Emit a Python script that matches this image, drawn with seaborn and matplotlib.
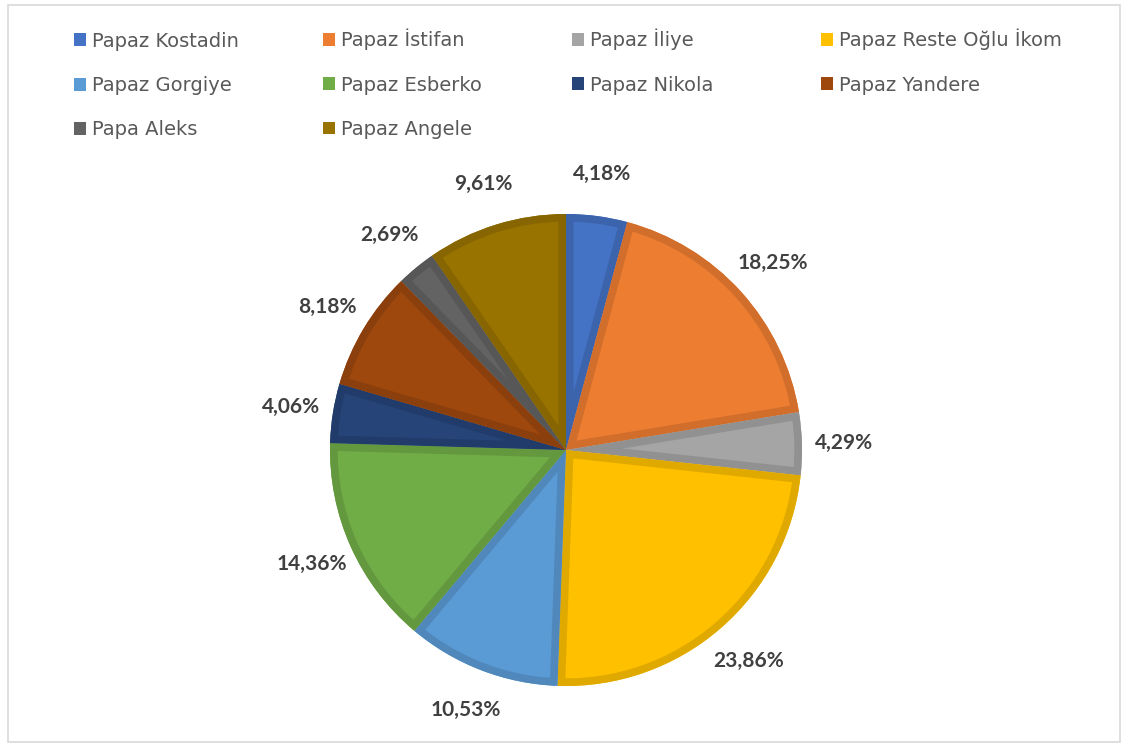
import matplotlib
matplotlib.use("Agg")
import matplotlib.pyplot as plt
from matplotlib.patches import Rectangle
import matplotlib.colors as mcolors
import seaborn as sns

# Data
names = ["Papaz Kostadin", "Papaz İstifan", "Papaz İliye", "Papaz Reste Oğlu İkom",
         "Papaz Gorgiye", "Papaz Esberko", "Papaz Nikola", "Papaz Yandere",
         "Papa Aleks", "Papaz Angele"]
shares = [4.18, 18.25, 4.29, 23.86, 10.53, 14.36, 4.06, 8.18, 2.69, 9.61]
hex_colors = ["#4472C4", "#ED7D31", "#A5A5A5", "#FFC000", "#5B9BD5",
              "#70AD47", "#264478", "#9E480E", "#636363", "#997300"]

sns.set_theme(style="white")
plt.rcParams["font.family"] = ["DejaVu Sans"]
palette = sns.color_palette(hex_colors)
darker = [tuple(v * 0.88 for v in mcolors.to_rgb(c)) for c in palette]

fig = plt.figure(figsize=(11.25, 7.52), dpi=100)
fig.patch.set_facecolor("white")

# light frame around the chart area
fig.add_artist(Rectangle((8 / 1125, 10 / 752), 1112 / 1125, 737 / 752,
                         transform=fig.transFigure, fill=False,
                         edgecolor="#D9D9D9", linewidth=1.2))

cx, cy, r = 566, 450, 236
ax = fig.add_axes([(cx - r) / 1125, (752 - cy - r) / 752, 2 * r / 1125, 2 * r / 752])

# filled slices with percentage labels
wedges, texts, autotexts = ax.pie(
    shares, colors=palette, startangle=90, counterclock=False,
    wedgeprops={"linewidth": 0},
    autopct=lambda p: f"{p:.2f}%".replace(".", ","), pctdistance=1.18,
    textprops={"fontsize": 15, "fontweight": "bold", "color": "#404040",
               "family": ["Lato", "DejaVu Sans"]},
)

# darker border drawn inside each slice (stroke clipped by the slice)
borders, _ = ax.pie(
    shares, colors=["none"] * len(shares), startangle=90, counterclock=False,
    wedgeprops={"linewidth": 11, "joinstyle": "round"},
)
for b, w, d in zip(borders, wedges, darker):
    b.set_facecolor("none")
    b.set_edgecolor(d)
    b.set_clip_on(True)
    b.set_clip_path(w)

ax.set_xlim(-1, 1)
ax.set_ylim(-1, 1)
ax.axis("off")

# legend: 4 evenly spaced columns, filled row by row
ncol = 4
for k in range(ncol):
    idx = list(range(k, len(names), ncol))
    handles = [Rectangle((0, 0), 1, 1, facecolor=palette[i], edgecolor="none") for i in idx]
    # first column has no tall "İ" glyph, so its rows sit a little higher
    top = 24 if k == 0 else 21
    fig.legend(handles, [names[i] for i in idx], loc="upper left",
               bbox_to_anchor=((66 + k * 249) / 1125, 1 - top / 752),
               frameon=False, fontsize=14, labelcolor="#595959",
               handlelength=0.65, handleheight=0.65, handletextpad=0.3,
               labelspacing=1.3, borderaxespad=0)

fig.savefig("out.png", dpi=100)
